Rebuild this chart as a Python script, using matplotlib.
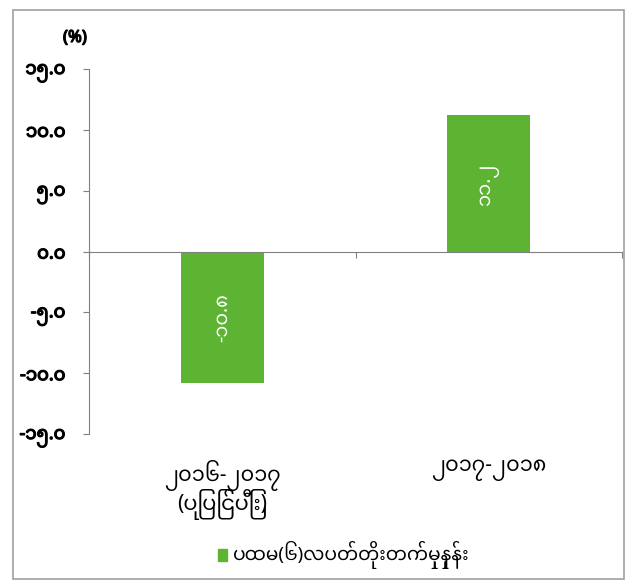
import numpy as np
import matplotlib
matplotlib.use('Agg')
import matplotlib.pyplot as plt
import matplotlib.patheffects as pe
from matplotlib.patches import Rectangle

# data
categories = ['၂၀၁၆-၂၀၁၇\n(ပြုပြင်ပြီး)', '၂၀၁၇-၂၀၁၈']
values = [-10.8, 11.2]
value_labels = ['-၁၀.၈', '၁၁.၂']
yticks = [-15, -10, -5, 0, 5, 10, 15]
ytick_labels = ['-၁၅.၀', '-၁၀.၀', '-၅.၀', '၀.၀', '၅.၀', '၁၀.၀', '၁၅.၀']
legend_label = 'ပထမ(၆)လပတ်တိုးတက်မှုနှုန်း'

plt.rcParams['font.family'] = ['Noto Sans Myanmar', 'DejaVu Sans']

green = '#5db332'
# the font has no bold face, so thicken the strokes a little
heavy = [pe.withStroke(linewidth=0.9, foreground='black')]

fig = plt.figure(figsize=(6.28, 5.84), dpi=100)
fig.patches.append(Rectangle((13/628, 5/584), 611/628, 569/584, transform=fig.transFigure,
                             fill=False, edgecolor='#a0a0a0', lw=1.2))
ax = fig.add_axes([89/628, 1 - 434/584, 533/628, 365/584])

x = np.arange(len(categories))
bars = ax.bar(x, values, width=0.31, color=green, zorder=2)
for b, lab in zip(bars, value_labels):
    ax.text(b.get_x() + b.get_width()/2, b.get_height()/2, lab, rotation=90,
            ha='center', va='center', color='white', fontsize=14)

ax.set_xlim(-0.5, 1.5)
ax.set_ylim(-15, 15)
ax.set_yticks(yticks)
ax.set_yticklabels(ytick_labels, fontsize=13, fontweight='bold')
for t in ax.get_yticklabels():
    t.set_path_effects(heavy)
ax.spines['top'].set_visible(False)
ax.spines['right'].set_visible(False)
ax.spines['bottom'].set_position(('data', 0))
ax.spines['left'].set_color('#808080')
ax.spines['bottom'].set_color('#808080')
ax.tick_params(axis='y', length=4, color='#808080', pad=13)
ax.set_xticks([-0.5, 0.5, 1.5])
ax.tick_params(axis='x', length=4, color='#808080', labelbottom=False)

for xi, cat in zip(x, categories):
    ax.text(xi, -0.07, cat, transform=ax.get_xaxis_transform(), ha='center', va='top',
            fontsize=15, linespacing=0.95)

fig.text(75/628, 1 - 38/584, '(%)', ha='center', va='center', fontsize=12,
         fontweight='bold', path_effects=heavy)

fig.patches.append(Rectangle((218/628, 1 - 561/584), 9/628, 12/584, transform=fig.transFigure,
                             color=green))
fig.text(233/628, 1 - 555/584, legend_label, ha='left', va='center', fontsize=13.5)

plt.savefig('out.png')
